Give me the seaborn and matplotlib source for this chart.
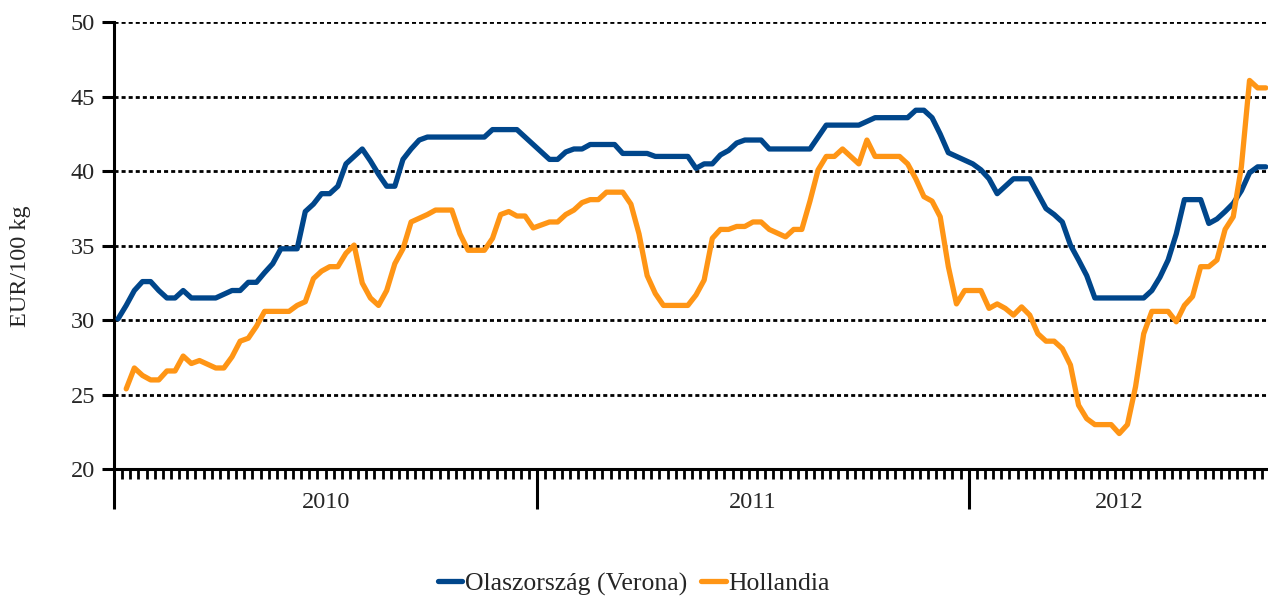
import numpy as np
import pandas as pd
import matplotlib
matplotlib.use("Agg")
import matplotlib.pyplot as plt
from matplotlib.lines import Line2D
import seaborn as sns

# ── Data (weekly prices, EUR/100 kg) ───────────────────────────────────────
SERIES = ["Olaszország (Verona)", "Hollandia"]
COLORS = ["#00468B", "#FF9515"]
YEARS = ["2010", "2011", "2012"]
YEAR_WEEKS = [52, 53, 37]          # number of weekly categories per year
Y_TICKS = [20, 25, 30, 35, 40, 45, 50]

verona = [
    30.1, 31.0, 32.0, 32.6, 32.6, 32.0, 31.5, 31.5, 32.0, 31.5,
    31.5, 31.5, 31.5, 31.75, 32.0, 32.0, 32.55, 32.55, 33.2, 33.8,
    34.8, 34.8, 34.8, 37.3, 37.8, 38.5, 38.5, 39.0, 40.5, 41.0,
    41.5, 40.7, 39.8, 39.0, 39.0, 40.8, 41.5, 42.1, 42.3, 42.3,
    42.3, 42.3, 42.3, 42.3, 42.3, 42.3, 42.8, 42.8, 42.8, 42.8,
    42.3, 41.8, 41.3, 40.8, 40.8, 41.3, 41.5, 41.5, 41.8, 41.8,
    41.8, 41.8, 41.2, 41.2, 41.2, 41.2, 41.0, 41.0, 41.0, 41.0,
    41.0, 40.2, 40.5, 40.5, 41.1, 41.4, 41.9, 42.1, 42.1, 42.1,
    41.5, 41.5, 41.5, 41.5, 41.5, 41.5, 42.3, 43.1, 43.1, 43.1,
    43.1, 43.1, 43.35, 43.6, 43.6, 43.6, 43.6, 43.6, 44.1, 44.1,
    43.6, 42.5, 41.25, 41.0, 40.75, 40.5, 40.1, 39.5, 38.5, 39.0,
    39.5, 39.5, 39.5, 38.5, 37.5, 37.1, 36.6, 35.05, 34.05, 33.0,
    31.5, 31.5, 31.5, 31.5, 31.5, 31.5, 31.5, 32.0, 32.9, 34.05,
    35.8, 38.1, 38.1, 38.1, 36.5, 36.8, 37.3, 37.85, 38.7, 39.9,
    40.3, 40.3,
]

hollandia = [
    np.nan, 25.4, 26.8, 26.3, 26.0, 26.0, 26.6, 26.6, 27.6, 27.1,
    27.3, 27.05, 26.8, 26.8, 27.55, 28.6, 28.8, 29.6, 30.6, 30.6,
    30.6, 30.6, 31.0, 31.25, 32.8, 33.3, 33.6, 33.6, 34.5, 35.05,
    32.5, 31.5, 31.0, 32.0, 33.8, 34.8, 36.6, 36.85, 37.1, 37.4,
    37.4, 37.4, 35.8, 34.7, 34.7, 34.7, 35.5, 37.1, 37.3, 37.0,
    37.0, 36.2, 36.4, 36.6, 36.6, 37.1, 37.4, 37.9, 38.1, 38.1,
    38.6, 38.6, 38.6, 37.8, 35.8, 33.0, 31.8, 31.0, 31.0, 31.0,
    31.0, 31.7, 32.7, 35.5, 36.1, 36.1, 36.3, 36.3, 36.6, 36.6,
    36.1, 35.85, 35.6, 36.1, 36.1, 38.0, 40.1, 41.0, 41.0, 41.5,
    41.0, 40.5, 42.1, 41.0, 41.0, 41.0, 41.0, 40.5, 39.5, 38.3,
    38.0, 36.95, 33.6, 31.1, 32.0, 32.0, 32.0, 30.8, 31.1, 30.8,
    30.35, 30.9, 30.35, 29.1, 28.6, 28.6, 28.1, 27.0, 24.3, 23.4,
    23.0, 23.0, 23.0, 22.4, 23.0, 25.55, 29.1, 30.6, 30.6, 30.6,
    29.9, 31.0, 31.6, 33.6, 33.6, 34.05, 36.1, 36.95, 40.3, 46.1,
    45.6, 45.6,
]

FONT = ["Liberation Serif", "DejaVu Serif"]
FS = 17.5


def main():
    sns.set_style("white")
    plt.rcParams["font.family"] = FONT

    week = np.arange(len(verona))
    df = pd.concat([
        pd.DataFrame({"week": week, "price": verona, "series": SERIES[0]}),
        pd.DataFrame({"week": week, "price": hollandia, "series": SERIES[1]}),
    ]).dropna()

    fig = plt.figure(figsize=(12.68, 5.97), dpi=100)
    ax = fig.add_axes([0.0899, 0.2139, 0.9101, 0.7487])

    # dotted horizontal grid
    for v in Y_TICKS[1:]:
        ax.axhline(v, color="black", lw=2.0, ls=(0, (1.45, 1.1)), zorder=1)

    sns.lineplot(data=df, x="week", y="price", hue="series",
                 palette=dict(zip(SERIES, COLORS)), linewidth=3.8,
                 estimator=None, legend=False, ax=ax, zorder=3)

    # year boundaries (category axis: boundaries at half steps)
    bounds = np.concatenate([[0], np.cumsum(YEAR_WEEKS)]) - 0.5
    ax.set_xlim(-0.5, 141.27)
    ax.set_ylim(20, 50)

    ax.set_xticks(bounds[:-1])
    ax.set_xticklabels([])
    ax.set_xticks(np.arange(0.5, bounds[-1], 1.0), minor=True)
    ax.tick_params(axis="x", which="major", direction="out", length=29,
                   width=2.2, color="black", bottom=True)
    ax.tick_params(axis="x", which="minor", direction="out", length=7.2,
                   width=2.0, color="black", bottom=True)
    for yr, a, b in zip(YEARS, bounds[:-1], bounds[1:]):
        ax.text((a + b) / 2, -0.075, yr, transform=ax.get_xaxis_transform(),
                ha="center", va="center", fontsize=FS)

    ax.set_yticks(Y_TICKS)
    ax.set_yticklabels([str(t) for t in Y_TICKS], fontsize=FS)
    ax.tick_params(axis="y", which="major", direction="out", length=8.6,
                   width=2.2, color="black", pad=5, left=True)

    for s in ["top", "right"]:
        ax.spines[s].set_visible(False)
    for s in ["left", "bottom"]:
        ax.spines[s].set_linewidth(2.2)
        ax.spines[s].set_color("black")
    ax.set_xlabel("")
    ax.set_ylabel("")

    fig.text(21 / 1268, 1 - 266 / 597, "EUR/100 kg", rotation=90,
             ha="center", va="center", fontsize=FS)

    handles = [Line2D([0], [0], color=c, lw=3.8) for c in COLORS]
    fig.legend(handles, SERIES, loc="center", bbox_to_anchor=(0.5, 0.022),
               ncol=2, frameon=False, fontsize=18.5, handlelength=0.95,
               handletextpad=0.1, columnspacing=0.55)

    fig.savefig("out.png", dpi=100)
    plt.close(fig)


if __name__ == "__main__":
    main()
